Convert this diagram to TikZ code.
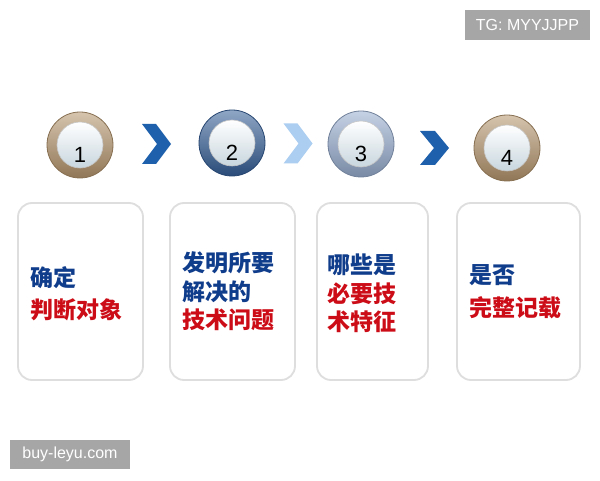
\documentclass[tikz,border=0pt]{standalone}
\usepackage{fontspec}
\setmainfont{Liberation Sans}
\newfontfamily\cjk{Noto Sans CJK SC}
\usepackage{xcolor}
\usepackage{tikz}
\usetikzlibrary{calc,positioning,shapes}
\definecolor{Tan}{RGB}{180,148,108}
\definecolor{RingBlue}{RGB}{52,94,150}
\definecolor{RingLight}{RGB}{150,172,206}
\definecolor{GlassBlue}{RGB}{200,214,222}
\definecolor{ChevDark}{RGB}{30,96,172}
\definecolor{ChevLight}{RGB}{172,206,240}
\definecolor{TextBlue}{RGB}{16,60,140}
\definecolor{TextRed}{RGB}{204,12,22}
\definecolor{BoxGray}{RGB}{222,222,222}
\definecolor{TagGray}{RGB}{166,166,166}

\begin{document}
\begin{tikzpicture} [x=1pt, y=1pt, thick,
	   every node/.style={font=\fontsize{12}{14}\selectfont},
	   stepring/.style 2 args = {circle, minimum size=#1, inner sep=0pt,
	                             draw=#2!75!black, line width=0.8pt,
	                             top color=#2!55!white, bottom color=#2!80!black},
	   stepglass/.style = {circle, minimum size=46pt, inner sep=0pt,
	                       draw=gray!45, line width=0.6pt,
	                       top color=white, bottom color=GlassBlue},
	   stepnum/.style = {font=\fontsize{22}{22}\selectfont, text=black, inner sep=0pt},
	   stepbox/.style = {rectangle, rounded corners=14pt, draw=BoxGray, line width=1.8pt,
	                     fill=white, minimum height=177pt, minimum width=#1},
	   stepcue/.style = {font=\cjk\bfseries\fontsize{23}{28.5}\selectfont,
	                     align=left, inner sep=0pt},
	   tag/.style = {fill=TagGray, text=white, font=\fontsize{16}{16}\selectfont,
	                 inner sep=0pt, minimum height=30pt, minimum width=#1}]
	\useasboundingbox[fill=white] (0,0) rectangle (600,480);

	%% Step circles
	\node [stepring={66pt}{Tan}] (s1) at (80,335) {};
	\node [stepring={66pt}{RingBlue}] (s2) at (232,337) {};
	\node [stepring={66pt}{RingLight}] (s3) at (361,336) {};
	\node [stepring={66pt}{Tan}] (s4) at (507,332) {};
	\node [stepglass] (g1) at (s1) {};
	\node [stepglass] (g2) at (s2) {};
	\node [stepglass] (g3) at (s3) {};
	\node [stepglass] (g4) at (s4) {};
	\node [stepnum] (n1) at ($(g1)+(0,-10)$) {1};
	\node [stepnum] (n2) at ($(g2)+(0,-10)$) {2};
	\node [stepnum] (n3) at ($(g3)+(0,-10)$) {3};
	\node [stepnum] (n4) at ($(g4)+(0,-10)$) {4};

	%% Chevrons between the circles
	\coordinate (c12) at ($(s1)!0.5!(s2)$);
	\coordinate (c23) at ($(s2)!0.5!(s3)+(1,0)$);
	\coordinate (c34) at ($(s3)!0.5!(s4)+(0,-2)$);
	\fill[ChevDark, shift={(c12)}] (-14,20) -- (0,20) -- (15,0) -- (0,-20) -- (-14,-20) -- (1,0) -- cycle;
	\fill[ChevLight, shift={(c23)}] (-14,20) -- (0,20) -- (15,0) -- (0,-20) -- (-14,-20) -- (1,0) -- cycle;
	\fill[ChevDark, shift={(c34)}] (-14,17) -- (1,17) -- (15,0) -- (1,-17) -- (-14,-17) -- (0,0) -- cycle;

	%% Boxes
	\node [stepbox=125pt] (b1) at (80.5,188.5) {};
	\node [stepbox=125pt] (b2) at (232.5,188.5) {};
	\node [stepbox=111pt] (b3) at (372.5,188.5) {};
	\node [stepbox=123pt] (b4) at (518.5,188.5) {};
	\node [stepcue, right=13pt of b1.west, yshift=-2pt] (t1)
	      {\color{TextBlue}确定\\[4pt]\color{TextRed}判断对象};
	\node [stepcue, right=13pt of b2.west] (t2)
	      {\color{TextBlue}发明所要\\\color{TextBlue}解决的\\\color{TextRed}技术问题};
	\node [stepcue, right=11pt of b3.west, yshift=-2pt] (t3)
	      {\color{TextBlue}哪些是\\\color{TextRed}必要技\\\color{TextRed}术特征};
	\node [stepcue, right=13pt of b4.west] (t4)
	      {\color{TextBlue}是否\\[4pt]\color{TextRed}完整记载};

	%% Tags
	\node [tag=125pt] (tg) at (527.5,455) {TG: MYYJJPP};
	\node [tag=120pt, minimum height=29pt] (site) at (70,25.5) {buy-leyu.com};
\end{tikzpicture}
\end{document}
